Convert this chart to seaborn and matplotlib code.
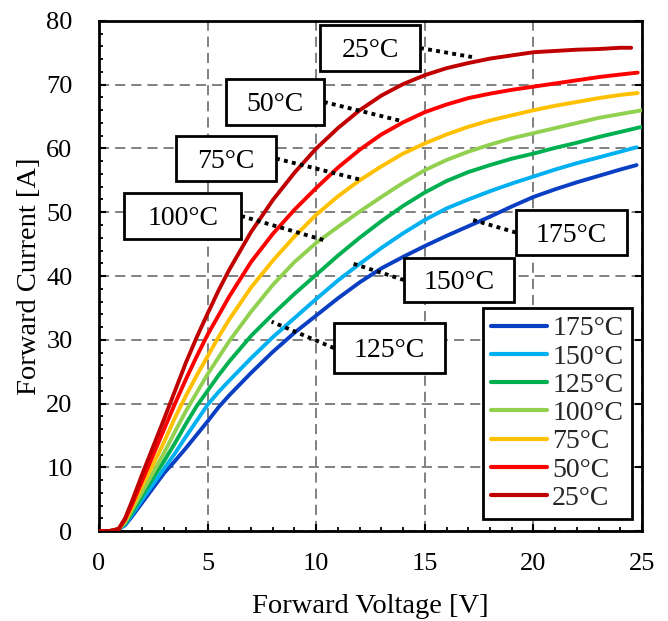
import numpy as np
import pandas as pd
import matplotlib
matplotlib.use("Agg")
import matplotlib.pyplot as plt
import seaborn as sns
from matplotlib.patches import Rectangle
from matplotlib.ticker import MultipleLocator

# ---------------- data ----------------
V_BASE = [0, 0.5, 0.9, 1.2, 1.5, 2, 2.5, 3, 3.5, 4, 4.5, 5, 5.5, 6, 7, 8, 9, 10,
          11, 12, 13, 14, 15, 16, 17, 18, 19, 20, 21, 22, 23, 24]

TEMPS = ["175°C", "150°C", "125°C", "100°C", "75°C", "50°C", "25°C"]
COLORS = ["#0A3FC4", "#00B0F0", "#00B050", "#92D050", "#FFC000", "#FF0000", "#C00000"]
V_END = [24.75, 24.75, 25.0, 25.0, 24.8, 24.8, 24.5]

I_175 = [0, 0, 0.3, 0.9, 2.2, 4.5, 6.8, 9.1, 11.0, 13.0, 15.1, 17.2, 19.4, 21.3, 24.8, 28.1,
         31.1, 33.8, 36.5, 39.0, 41.2, 43.0, 44.7, 46.3, 47.8, 49.3, 50.9, 52.4, 53.6, 54.7,
         55.7, 56.7, 57.4]
I_150 = [0, 0, 0.3, 1.0, 2.5, 5.0, 7.4, 9.8, 12.2, 14.8, 17.3, 19.8, 21.8, 23.6, 27.1, 30.4,
         33.4, 36.4, 39.3, 41.9, 44.4, 46.7, 48.8, 50.6, 52.0, 53.3, 54.5, 55.6, 56.7, 57.7,
         58.6, 59.5, 60.2]
I_125 = [0, 0, 0.3, 1.2, 2.8, 5.6, 8.4, 11.0, 13.8, 16.8, 19.6, 22.0, 24.4, 26.6, 30.6, 34.0,
         37.2, 40.2, 43.2, 46.0, 48.6, 51.0, 53.1, 54.9, 56.3, 57.4, 58.4, 59.2, 60.1, 60.9,
         61.8, 62.6, 63.4]
I_100 = [0, 0, 0.3, 1.4, 3.2, 6.2, 9.2, 12.3, 15.6, 18.8, 21.7, 24.6, 27.2, 29.8, 34.4, 38.6,
         42.2, 45.2, 47.7, 50.1, 52.4, 54.6, 56.6, 58.2, 59.5, 60.6, 61.6, 62.4, 63.2, 64.0,
         64.8, 65.4, 66.0]
I_75 = [0, 0, 0.3, 1.6, 3.6, 7.2, 10.5, 14.0, 17.8, 21.2, 24.4, 27.4, 30.4, 33.2, 38.2, 42.4,
        46.2, 49.6, 52.5, 55.0, 57.2, 59.2, 60.8, 62.2, 63.4, 64.4, 65.2, 66.0, 66.7, 67.3,
        67.9, 68.4, 68.7]
I_50 = [0, 0, 0.3, 1.8, 4.0, 8.0, 12.0, 16.0, 20.0, 23.8, 27.4, 30.8, 33.8, 36.8, 42.2, 46.6,
        50.4, 53.8, 57.0, 59.8, 62.2, 64.1, 65.7, 66.9, 67.9, 68.6, 69.2, 69.7, 70.2, 70.7,
        71.2, 71.6, 71.9]
I_25 = [0, 0, 0.3, 2.0, 4.5, 9.0, 13.3, 17.6, 22.0, 26.4, 30.4, 34.1, 37.7, 41.0, 46.9, 51.9,
        56.2, 60.0, 63.2, 66.0, 68.3, 70.1, 71.5, 72.6, 73.4, 74.1, 74.6, 75.1, 75.3, 75.5,
        75.6, 75.8, 75.8]
SERIES = [I_175, I_150, I_125, I_100, I_75, I_50, I_25]

X_TICKS = [0, 5, 10, 15, 20, 25]
Y_TICKS = [0, 10, 20, 30, 40, 50, 60, 70, 80]

# annotation boxes: label, (centre V, centre I, width, height), side, leader end (V, I)
ANNOT = [
    ("25°C", (12.48, 75.76, 4.60, 7.2), "r", (17.17, 74.35)),
    ("50°C", (8.10, 67.30, 4.51, 7.2), "r", (13.94, 64.3)),
    ("75°C", (5.85, 58.43, 4.60, 7.06), "r", (12.09, 55.06)),
    ("100°C", (3.85, 49.41, 5.39, 7.2), "r", (10.33, 45.65)),
    ("175°C", (21.75, 46.82, 5.11, 7.06), "l", (17.23, 48.78)),
    ("150°C", (16.57, 39.37, 5.06, 6.9), "l", (11.65, 41.99)),
    ("125°C", (13.37, 28.70, 5.11, 7.75), "l", (7.95, 32.83)),
]

# ---------------- build frame ----------------
rows = []
for t, vals, vend in zip(TEMPS, SERIES, V_END):
    vs = V_BASE + [vend]
    for v, i in zip(vs, vals):
        rows.append((t, v, i))
df = pd.DataFrame(rows, columns=["T", "V", "I"])

# ---------------- plot ----------------
sns.set_theme(style="white")
plt.rcParams["font.family"] = ["Liberation Serif", "DejaVu Serif"]

fig = plt.figure(figsize=(6.68, 6.21), dpi=100)
ax = fig.add_axes([0.1482, 0.1449, 0.8129, 0.8213])

sns.lineplot(data=df, x="V", y="I", hue="T", hue_order=TEMPS, palette=COLORS,
             linewidth=2.8, estimator=None, sort=False, ax=ax, zorder=3)

ax.set_xlim(0, 25)
ax.set_ylim(0, 80)
ax.set_xticks(X_TICKS)
ax.set_yticks(Y_TICKS)
ax.xaxis.set_minor_locator(MultipleLocator(1))
ax.yaxis.set_minor_locator(MultipleLocator(2))
ax.tick_params(which="major", direction="in", length=5, width=1.5, colors="black",
               labelsize=19, right=True, left=True, bottom=True, top=False)
ax.tick_params(which="minor", direction="in", length=3, width=1.3, colors="black",
               left=True, bottom=True, right=False, top=False)
ax.tick_params(axis="x", which="major", pad=16)
ax.tick_params(axis="y", which="major", pad=19)

ax.grid(True, which="major", color="#808080", linestyle=(0, (5.2, 3.1)), linewidth=1.4, zorder=0)
ax.set_axisbelow(True)
for s in ax.spines.values():
    s.set_color("black")
    s.set_linewidth(2.0)
    s.set_visible(True)

ax.set_xlabel("Forward Voltage [V]", fontsize=20.5, color="black")
ax.set_ylabel("Forward Current [A]", fontsize=20.5, color="black")
ax.xaxis.set_label_coords(0.5, -0.124)
ax.yaxis.set_label_coords(-0.105, 0.5)

# annotation boxes with dotted leaders
for label, (cx, cy, w, h), side, (ex, ey) in ANNOT:
    rect = Rectangle((cx - w / 2, cy - h / 2), w, h, facecolor="white", edgecolor="black",
                     linewidth=2.0, zorder=6)
    ax.add_patch(rect)
    ax.text(cx, cy - 0.4, label, ha="center", va="center", fontsize=20, color="black", zorder=7)
    sx = cx + w / 2 if side == "r" else cx - w / 2
    ax.plot([sx, ex], [cy, ey], color="black", linewidth=2.8, linestyle=(0, (1, 1.1)),
            zorder=5, solid_capstyle="butt")

handles, labels = ax.get_legend_handles_labels()
leg = ax.legend(handles, labels, loc="upper right", bbox_to_anchor=(0.981, 0.438),
                borderaxespad=0, fontsize=20, frameon=True, fancybox=False, framealpha=1,
                edgecolor="black", handlelength=2.0, handletextpad=0.2, labelspacing=0.1,
                borderpad=0.3)
leg.get_frame().set_linewidth(2.0)
leg.set_zorder(8)
for lh in leg.get_lines():
    lh.set_linewidth(3.0)

fig.savefig("out.png", dpi=100)
